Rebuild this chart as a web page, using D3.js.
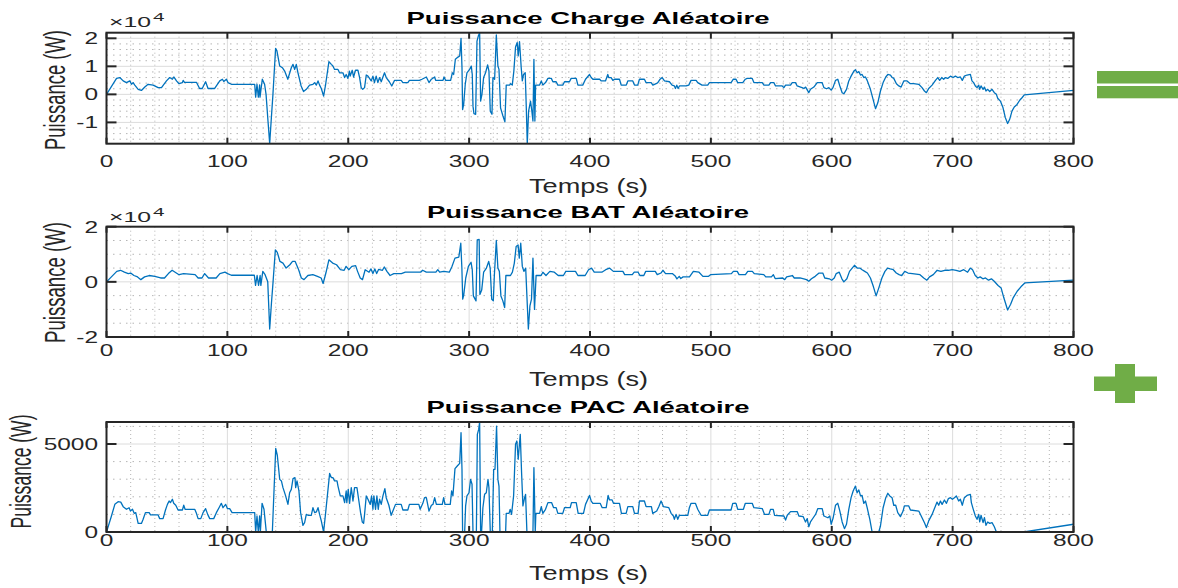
<!DOCTYPE html>
<html><head><meta charset="utf-8">
<script src="https://cdn.jsdelivr.net/npm/d3@7"></script>
<style>body{margin:0;background:#fff}svg{display:block}</style>
</head><body><svg id="c" width="1178" height="588"></svg>
<script>
// ---------------- DATA (time s, power W) ----------------
const chargeData = [[0,0],[8.3,5700],[11,6000],[13.8,4800],[16.5,4200],[19.3,4800],[20.7,3600],[22,4200],[23.4,3300],[26.2,1800],[28.9,1400],[31.7,2600],[34.4,3600],[38.6,3300],[42.7,2400],[45.5,2400],[49.6,4800],[52.3,6000],[54.5,5400],[55.7,6200],[57.9,4800],[60,3800],[62.8,4200],[63.4,5000],[64.5,4300],[66,4300],[74.4,4300],[77,2100],[79.2,2100],[82,4500],[84,2100],[89.5,2100],[93.7,4800],[95.9,5400],[97,4600],[99.2,5400],[100.5,4200],[103.3,3600],[122.6,3600],[123.4,-1000],[124.5,3600],[125.6,-1000],[126.7,3400],[127,-1000],[128.9,5400],[130.8,3600],[132,0],[133.6,-9500],[135,-17500],[136.4,-8300],[137.7,0],[139.9,16400],[141,15500],[143.3,10100],[145.5,9500],[147.4,8300],[150,5400],[152.9,9500],[154.3,10700],[155.7,8900],[157,10700],[158.4,7700],[161,3000],[163,1000],[165.3,1800],[168,3300],[170.8,3600],[172.2,4200],[173.6,3300],[175,4800],[176.3,3300],[177.7,2100],[179.6,-600],[181.3,3600],[184,11700],[186,10700],[187.3,10100],[188.7,8900],[191.5,8900],[192.8,7700],[195.6,7700],[197,6000],[198.3,7100],[199.7,5700],[201,8300],[201.6,6500],[203.3,8600],[204.4,6200],[206,8600],[208,8600],[209.4,6000],[210.7,2400],[212,1800],[213.5,2400],[214.9,6900],[216.3,6500],[219,4800],[220.4,6500],[221.7,4200],[223.1,6500],[224.5,4200],[225.9,6000],[227.3,4500],[228.7,6200],[230,7700],[231.4,6000],[234,4500],[236,3000],[238.3,5000],[243.8,5000],[245.2,4200],[249.3,4200],[250.6,5000],[258.8,5000],[261,5400],[264.6,6200],[266.8,4200],[268.8,5400],[271.5,6200],[272.3,5000],[278.4,5000],[279.2,6200],[280.6,5000],[284.7,5000],[286.1,7700],[287.2,7100],[288.6,12500],[290.8,13300],[292.2,13700],[293.3,20000],[294.1,9500],[294.6,-5400],[295.5,-3600],[296.8,3600],[298.2,7700],[300.4,8900],[301.8,10100],[302.6,7100],[303.2,-4200],[304,-6900],[305.4,-7100],[306.5,19000],[307.6,20800],[308.7,22000],[309.5,-2400],[310.6,0],[312,6000],[313.6,7700],[315.3,10500],[316.4,8300],[317.5,-6000],[318.9,-7100],[319.7,6000],[321.1,5400],[322.5,21200],[323.8,10100],[324.7,8900],[326,-4800],[328,-7700],[329.6,-9800],[330.7,3300],[333.5,3300],[334.3,3800],[335.7,3300],[337,8300],[338.4,16900],[339.8,18500],[340.6,13700],[341.7,18800],[343.1,9500],[344,4800],[345,7100],[346.4,7700],[347.3,-4800],[348.1,-17500],[349.2,-6000],[350.8,-2400],[351.9,-6000],[352.8,-9500],[353.6,12500],[354.4,-9500],[355,3300],[358.3,3300],[359.7,4800],[361,3300],[363.2,4200],[365.2,5700],[368,5700],[369.3,4500],[372,4500],[373.4,3300],[377.5,3300],[378.9,4500],[383,4500],[384.4,5700],[388.6,5700],[390,3300],[394,3300],[396.3,5400],[399.6,7100],[401,6000],[402.4,5400],[408,5400],[409.2,4800],[412.8,4800],[414.7,7100],[415.5,6000],[417.5,6000],[418.9,5000],[420.2,5400],[424.4,5400],[425.8,3300],[430,3300],[431.3,4800],[435.4,4800],[436.8,3300],[439.5,3300],[440.9,5400],[445,5400],[446.4,4200],[450.6,4200],[452,3300],[454.7,3800],[456.1,4200],[458,5400],[459.7,6000],[461.6,4800],[465.7,4500],[467.9,3300],[469.8,3000],[470.7,2100],[471.8,3300],[472.9,2100],[474,3000],[479.5,3000],[481.7,3300],[483.6,5000],[487.8,5000],[489.1,4200],[492.7,3300],[497.4,3300],[498.8,4200],[516.7,4200],[518.6,5400],[520.8,5400],[522.2,4200],[526.4,4200],[528.5,5400],[530,5700],[534.2,5700],[535.6,4200],[542.5,4200],[543.9,3300],[548,3300],[549.4,4200],[552.1,4200],[553.5,3000],[559,3000],[560.4,2400],[561.8,3300],[565.9,3300],[567.3,4200],[570,4200],[571.4,3000],[574.2,2600],[575.5,2400],[577,2100],[578.4,2600],[581,600],[582.4,1800],[585.2,2600],[588,4200],[592,4200],[593.5,2400],[595.7,2000],[597.6,2400],[599.5,1500],[601,2400],[603.1,5000],[605,5400],[606.7,3000],[608.6,600],[610,200],[612.2,1800],[614.1,4800],[616,6500],[618.3,8300],[619.6,8800],[621,7700],[622.4,8100],[623.8,6900],[625.1,7100],[626.5,6000],[627.9,6200],[629.3,5000],[632,1800],[634.2,-1800],[636.2,-5100],[638.1,-3000],[640.3,1200],[642.5,4200],[644.7,6200],[646.4,7100],[648.6,6900],[650,6000],[651.3,5700],[653.5,3800],[655.5,3000],[657.4,2600],[659.6,4800],[662.3,4800],[665,3800],[667.8,3800],[672,3600],[674.7,2400],[676.7,1200],[678.3,600],[680.2,2100],[683,3300],[685.8,5000],[687.7,6000],[689.3,5000],[691,6000],[692.6,5400],[694,6000],[695.9,5700],[698.2,6500],[700.4,6000],[702.3,6500],[704.2,6000],[706.4,6200],[708,5000],[709.7,6500],[711.9,6900],[714.7,7100],[716,4800],[717.4,4200],[718.8,3000],[720.2,2400],[721.6,3300],[722.4,1800],[723.5,3000],[725.2,1800],[726.3,2600],[727.6,1200],[729,1800],[730.7,1000],[732.6,1800],[734.5,600],[736.2,0],[737.3,-1400],[739.5,-2400],[741.7,-4800],[743.6,-8300],[745.5,-10400],[747.2,-8900],[749.1,-6000],[751,-4500],[753.3,-3600],[755.5,-2100],[757.4,-1200],[759.3,-200],[800,1400]];

const batData = [[0,0],[8.5,3800],[11.6,4200],[14.8,3500],[18,3000],[20,3200],[22.7,2300],[25.2,1900],[28.4,800],[31.5,1800],[35.3,2300],[40,2000],[44.8,1400],[48,1400],[51.2,3000],[54.3,4200],[56.8,3500],[60,2600],[63.8,3000],[73.3,2600],[75.8,1400],[79,1400],[81.2,3000],[84.4,1400],[90.7,1400],[93.8,3000],[98,3500],[100.2,3000],[103.3,2400],[122.3,2400],[123.3,-1300],[124.6,2300],[125.8,-1300],[127.1,2300],[127.7,-1300],[129.3,3800],[131.2,2600],[133.4,0],[135,-17100],[136.5,-7500],[137.8,0],[139.7,11600],[141.3,10700],[143.5,7400],[146,6800],[148.6,5000],[151.7,6200],[153.9,7400],[156.1,7400],[158.7,4700],[161.2,1400],[163.4,800],[166.6,2300],[170.7,2600],[174.5,2000],[177.6,1400],[179.2,-600],[181.5,3200],[184,8000],[187.1,6800],[190.3,6200],[193.5,4400],[196.6,4200],[198.2,5600],[200.4,4400],[203,5600],[206.1,5900],[207.7,3800],[209.9,1400],[211.8,800],[214,4400],[217.2,3500],[218.8,4700],[220.4,3000],[222,4700],[223.5,3000],[225.1,4500],[228.3,4200],[229.8,5400],[232,3800],[234.6,2300],[237.7,3000],[244,3000],[247.2,3500],[259.9,3500],[261.5,4200],[264.6,3500],[272.5,3500],[274.1,4400],[275.6,3500],[278.9,3800],[283.6,3500],[285.8,5600],[288.3,8600],[291.5,9000],[293.1,14000],[294,5000],[294.7,-6300],[295.6,-4600],[297.2,1400],[299.4,5600],[301.6,7100],[302.6,4400],[303.5,-5100],[305.7,-6900],[306.7,15200],[308.3,15400],[308.9,-4600],[310.4,-3000],[312,3500],[314.3,5000],[316.2,7400],[317.4,5000],[318.7,-6300],[320,-6900],[320.9,2600],[322.5,15000],[323.8,5000],[325,3800],[326.3,-5100],[327.9,-6900],[329.4,-9300],[330.4,2300],[334.2,2300],[335.8,3500],[337.4,6800],[338.9,12800],[340.5,13400],[341.5,8600],[342.7,14000],[344,5600],[345.3,3800],[346.8,5000],[347.8,-5100],[349,-17100],[350.3,-8700],[351.6,-6300],[352.8,8600],[354.1,-10000],[355.4,2300],[359.5,2300],[361,3500],[363.6,2300],[366.8,3800],[370.5,3500],[373.7,2300],[378,2300],[380,3800],[388,3800],[390,2300],[396,2300],[398.8,4400],[401.3,5000],[403.5,3500],[409.8,3500],[413,4400],[416.1,5000],[419.3,3800],[427.2,3800],[428.7,2600],[435,2600],[436.6,3500],[439.8,3500],[441.3,2300],[444.5,2300],[446.1,3800],[454,3800],[455.6,2600],[458.7,3200],[460.3,4200],[462.5,3000],[468.1,3000],[470.7,2000],[471.9,1100],[473.8,2000],[475.1,1200],[477,1800],[482.3,1800],[485.5,3800],[490.2,3500],[493.4,2000],[498.1,2000],[499.7,2600],[517,3000],[518.6,3800],[521.8,3800],[523.3,2600],[528.6,2600],[530.5,3800],[534.3,3800],[535.9,3000],[543.8,2600],[545.4,1800],[550.1,1800],[551.7,2600],[553.2,1200],[559.5,1400],[561.1,800],[562.7,1800],[567.4,2300],[569,1400],[573.7,1400],[576.9,1100],[579.1,800],[581,200],[583.2,1100],[586.3,2000],[589.5,3200],[592.6,3200],[594.2,1400],[598,1100],[599.9,600],[602.1,1400],[603.7,3000],[606.2,3500],[608.4,1100],[610,0],[612.5,1100],[614.7,3800],[616.9,5000],[618.8,6000],[621,5000],[623.2,5000],[625.1,4400],[627.3,3800],[629.5,3200],[632,1400],[634.5,-1800],[636.7,-5100],[639,-2100],[641.5,1400],[644,3800],[646.2,5000],[648.4,4700],[650.9,4400],[653.4,3200],[655.7,2600],[657.9,2300],[660.4,3800],[663.1,3200],[666.7,3000],[673,2600],[676.1,1400],[678.7,600],[680.9,1800],[684,2600],[687.2,4200],[690.3,3800],[693.5,4200],[696.6,4200],[699.7,4400],[702.9,4200],[706,3800],[709.2,4400],[712.4,3500],[714.6,5000],[716.5,4400],[718.7,2300],[720.9,1400],[722.8,1800],[725,1100],[727.2,1400],[729.7,600],[732.1,1100],[734.4,200],[737.6,-1300],[740.1,-2200],[742.3,-5700],[745.5,-10200],[748,-8100],[750.2,-5700],[753.4,-3400],[756.5,-1800],[759.7,-400],[800,600]];

const pacData = [[0,0],[4.1,910],[6.9,1570],[9.6,1720],[11.8,1700],[13.8,1440],[16.5,1290],[18.7,1380],[19.8,1190],[21.5,1290],[22.9,1060],[24.2,1100],[26.2,490],[28.9,490],[30.3,720],[32.2,1100],[35.3,1100],[36.4,970],[42.7,970],[44,760],[46.8,760],[48.8,1250],[50.4,1570],[51.8,1760],[52.9,1670],[54.5,1860],[55.6,1630],[57.3,1520],[59.2,1250],[62.8,1250],[63.9,1520],[65,1290],[73,1290],[74.4,1060],[75.8,760],[78,760],[79.9,1100],[82,1330],[83.7,1000],[85.4,760],[88.7,760],[90.9,1100],[93.1,1380],[95,1630],[96.4,1380],[98.6,1570],[100,1330],[101.9,1330],[103.9,1100],[122.6,1100],[123.4,0],[124.5,910],[125.6,0],[126.7,910],[127.3,0],[128.7,1630],[130.3,1290],[132.2,0],[137.2,0],[140,4750],[141.3,4360],[143.3,2990],[144.7,2900],[146,2520],[148.2,2050],[150.1,1570],[151.5,2230],[152.9,2420],[154.3,3030],[155.9,3090],[156.5,2520],[157.6,2900],[159.2,2330],[160.6,1100],[162.5,380],[163.9,530],[165.3,1000],[166.7,950],[169.4,950],[170.8,1380],[172.2,1100],[173.6,1140],[175,1380],[176.3,1000],[177.7,630],[179.6,0],[181.3,1100],[184.6,3330],[186,3090],[187.3,3090],[188.7,2900],[190.7,2900],[191.5,2610],[193.4,2050],[195.6,2050],[197,1670],[198.3,2330],[198.8,1670],[200,2420],[201.1,1630],[202.5,2520],[203.9,1760],[205.2,2520],[207.2,2520],[208.8,1760],[210.2,1100],[211.6,570],[212.7,490],[213.5,1000],[214.9,2050],[216.3,1860],[218.2,1570],[219.3,2050],[220.4,1290],[221.2,2050],[222.6,1290],[223.7,2050],[224.8,1290],[225.9,1860],[227.3,1570],[228.7,2050],[230.3,2460],[231.4,1950],[233.6,1520],[235.5,950],[237.5,1290],[239.1,1570],[243.8,1570],[245.2,1250],[249.3,1250],[250.6,1570],[258.4,1570],[259.5,1290],[261.7,1630],[263.1,1950],[264.6,1950],[266.8,1190],[268.8,1520],[270.1,1570],[271.5,1950],[272.9,1570],[277.8,1570],[278.9,1950],[280,1570],[284.4,1570],[285.5,2330],[286.6,2050],[288.3,3600],[290.2,3750],[292.2,3900],[293.3,5640],[294.1,3560],[294.6,0],[296.3,0],[297.1,1480],[298.2,2050],[299.9,2230],[301.2,2990],[302.4,2710],[303.2,0],[306,0],[306.8,5550],[307.9,5830],[308.7,6250],[309.5,0],[310.3,0],[311.4,1380],[312.8,2140],[314.2,2230],[315.6,2990],[316.4,2520],[317.5,0],[319.2,0],[320.3,3560],[321.4,3560],[322.7,6020],[323.8,2990],[324.7,2610],[325.5,0],[330.2,0],[330.7,1060],[333,1060],[334,1290],[335.1,1000],[336.8,2050],[338.4,4980],[339.5,5170],[340.6,4130],[342.3,5550],[343.4,3370],[344.5,1480],[345.9,1950],[346.7,2140],[347.8,0],[352.8,0],[353.6,3660],[354.7,0],[355.2,1060],[358.3,1060],[359.7,1440],[361,1060],[363.2,1290],[365.2,1670],[368.2,1670],[369.9,1380],[372,1380],[373.4,1060],[377.5,1060],[378.9,1380],[383.6,1380],[384.7,1670],[388.6,1670],[390.2,1060],[394.6,1060],[396.3,1570],[399.6,2080],[401,1760],[402.4,1630],[408.4,1630],[410.1,1380],[413.4,1380],[415,2080],[416.1,1820],[418.3,1820],[419.4,1630],[424.4,1630],[426,1060],[429.9,1060],[431.3,1440],[435.4,1440],[436.8,1060],[439.8,1060],[440.9,1760],[445,1760],[446.4,1440],[450.8,1440],[451.9,1060],[455.2,1190],[456.9,1440],[458.8,1760],[460.8,1440],[465.2,1380],[467.1,1060],[469,910],[469.8,720],[471.2,1000],[472.6,720],[474,950],[480.9,950],[482.2,1380],[483.6,1630],[487.2,1630],[489.1,1290],[491.9,950],[497.4,950],[498.8,1250],[516.7,1250],[518.1,1630],[520.8,1630],[522.2,1290],[526.9,1290],[528.5,1630],[534.2,1630],[535.6,1380],[542.5,1330],[544.4,1000],[548,1000],[549.4,1290],[551.6,1290],[552.7,950],[560.4,910],[561.8,680],[563.2,950],[565.9,1160],[571.4,1160],[572.8,910],[576.4,870],[578.3,570],[579.7,760],[581,300],[582.4,570],[584.7,810],[586.6,1000],[588.5,1330],[592.1,1330],[593.5,910],[596.8,810],[598.4,910],[599.5,440],[601.2,810],[603.1,1520],[605,1630],[606.7,1190],[608.6,570],[610.5,190],[612.2,440],[614.1,1290],[616,1950],[617.7,2330],[619.6,2610],[621,2230],[622.4,2390],[623.8,2050],[625.1,2080],[626.5,1630],[627.9,1760],[629.3,1380],[631.5,720],[633.4,0],[638.9,0],[640.3,340],[642.5,1380],[644.7,1950],[646.4,2200],[648,2050],[649.9,1950],[651.3,1520],[652.9,1520],[654.6,1100],[656.8,870],[659,1190],[660.1,1480],[663.7,1480],[665.1,1250],[672,1190],[674.7,810],[676.7,530],[678.3,250],[680.2,630],[683,1000],[685.8,1480],[687.1,1700],[688.5,1520],[689.9,1760],[691.3,1570],[693.2,1820],[694.9,1630],[696.5,1900],[698.2,1950],[699.8,1860],[701.5,1950],[703.1,2050],[705,1760],[706.4,1860],[708,1520],[709.7,1950],[711.9,2080],[714.7,2140],[715.5,1670],[716.9,1330],[718.8,910],[720.2,720],[721.6,1000],[722.4,570],[723.5,950],[725.2,530],[726.3,820],[727.6,380],[729,570],[730.7,490],[732.6,530],[734.5,300],[736.2,0],[758.8,0],[800,440]];

const xTickValues = [0,100,200,300,400,500,600,700,800];
const xTickLabels = ["0","100","200","300","400","500","600","700","800"];
const chargeTicks = [-10000,0,10000,20000];
const chargeTickLabels = ["-1","0","1","2"];
const batTicks = [-20000,0,20000];
const batTickLabels = ["-2","0","2"];
const pacTicks = [0,5000];
const pacTickLabels = ["0","5000"];
const titles = ["Puissance Charge Aléatoire","Puissance BAT Aléatoire","Puissance PAC Aléatoire"];
const xLabel = "Temps (s)";
const yLabel = "Puissance (W)";

// ---------------- LAYOUT ----------------
const svg = d3.select("#c");
const L = 106.5, R = 1073.5;
const x = d3.scaleLinear().domain([0,800]).range([L,R]);
const FONT = "'Liberation Sans', Arial, Helvetica, sans-serif";
const INK = "#262626";
const SX = 1.5;

const panels = [
  {data: chargeData, top: 32.7, bottom: 143.7, dom: [-17600,22000], ticks: chargeTicks, labels: chargeTickLabels, minor: 2000,
   title: titles[0], titleY: 24, titleW: 363, xlabY: 166.5, tempsY: 192.5, ylabX: 64.5, ylabC: 90, ylabL: 120, exp: [27.3, 20.7]},
  {data: batData, top: 226.7, bottom: 337, dom: [-20000,20000], ticks: batTicks, labels: batTickLabels, minor: 5000,
   title: titles[1], titleY: 218.3, titleW: 322, xlabY: 356, tempsY: 386, ylabX: 64.5, ylabC: 282.5, ylabL: 121, exp: [221.7, 215.5]},
  {data: pacData, top: 422, bottom: 532, dom: [0,6250], ticks: pacTicks, labels: pacTickLabels, minor: 1000,
   title: titles[2], titleY: 412.7, titleW: 323, xlabY: 546, tempsY: 580, ylabX: 31, ylabC: 471.5, ylabL: 114, exp: null}
];

panels.forEach((p, i) => {
  const y = d3.scaleLinear().domain(p.dom).range([p.bottom, p.top]);
  const g = svg.append("g");
  const clipId = "clip" + i;
  svg.append("clipPath").attr("id", clipId).append("rect")
    .attr("x", L).attr("y", p.top).attr("width", R - L).attr("height", p.bottom - p.top);

  // minor grid x
  const xMinor = d3.range(20, 800, 20).filter(v => v % 100 !== 0);
  g.selectAll(null).data(xMinor).join("line")
    .attr("x1", d => x(d)).attr("x2", d => x(d)).attr("y1", p.top).attr("y2", p.bottom)
    .attr("stroke", "#b5b5b5").attr("stroke-width", 1).attr("stroke-dasharray", "1,3");
  // minor grid y
  const yMinor = d3.range(Math.ceil(p.dom[0] / p.minor) * p.minor, p.dom[1], p.minor)
    .filter(v => !p.ticks.includes(v) && y(v) > p.top + 1 && y(v) < p.bottom - 1);
  g.selectAll(null).data(yMinor).join("line")
    .attr("x1", L).attr("x2", R).attr("y1", d => y(d)).attr("y2", d => y(d))
    .attr("stroke", "#b5b5b5").attr("stroke-width", 1).attr("stroke-dasharray", "1.5,5");
  // major grid
  g.selectAll(null).data(xTickValues.slice(1, -1)).join("line")
    .attr("x1", d => x(d)).attr("x2", d => x(d)).attr("y1", p.top).attr("y2", p.bottom)
    .attr("stroke", "#dcdcdc").attr("stroke-width", 1);
  g.selectAll(null).data(p.ticks.filter(v => y(v) > p.top + 1 && y(v) < p.bottom - 1)).join("line")
    .attr("x1", L).attr("x2", R).attr("y1", d => y(d)).attr("y2", d => y(d))
    .attr("stroke", "#dcdcdc").attr("stroke-width", 1);

  // data line
  const line = d3.line().x(d => x(d[0])).y(d => y(d[1]));
  g.append("path").datum(p.data).attr("d", line).attr("clip-path", `url(#${clipId})`)
    .attr("fill", "none").attr("stroke", "#0072BD").attr("stroke-width", 1.3).attr("stroke-linejoin", "round");

  // box
  g.append("rect").attr("x", L).attr("y", p.top).attr("width", R - L).attr("height", p.bottom - p.top)
    .attr("fill", "none").attr("stroke", INK).attr("stroke-width", 2);

  // x ticks (inside, top & bottom)
  xTickValues.forEach(v => {
    g.append("line").attr("x1", x(v)).attr("x2", x(v)).attr("y1", p.bottom).attr("y2", p.bottom - 6).attr("stroke", INK).attr("stroke-width", 2);
    g.append("line").attr("x1", x(v)).attr("x2", x(v)).attr("y1", p.top).attr("y2", p.top + 6).attr("stroke", INK).attr("stroke-width", 2);
  });
  // y ticks (inside, left & right)
  p.ticks.forEach(v => {
    g.append("line").attr("x1", L).attr("x2", L + 10).attr("y1", y(v)).attr("y2", y(v)).attr("stroke", INK).attr("stroke-width", 2);
    g.append("line").attr("x1", R).attr("x2", R - 10).attr("y1", y(v)).attr("y2", y(v)).attr("stroke", INK).attr("stroke-width", 2);
  });

  // x tick labels
  xTickValues.forEach((v, k) => {
    g.append("text").attr("transform", `translate(${x(v)},${p.xlabY}) scale(${SX},1)`)
      .attr("text-anchor", "middle").attr("font-family", FONT).attr("font-size", 16.3).attr("fill", INK)
      .text(xTickLabels[k]);
  });
  // y tick labels
  p.ticks.forEach((v, k) => {
    g.append("text").attr("transform", `translate(98,${y(v) + 5.8}) scale(${SX},1)`)
      .attr("text-anchor", "end").attr("font-family", FONT).attr("font-size", 16.3).attr("fill", INK)
      .text(p.labels[k]);
  });

  // title
  g.append("text").attr("x", 588).attr("y", p.titleY).attr("text-anchor", "middle")
    .attr("font-family", FONT).attr("font-weight", "bold").attr("font-size", 16.5).attr("fill", "#000")
    .attr("textLength", p.titleW).attr("lengthAdjust", "spacingAndGlyphs").text(p.title);

  // x label
  g.append("text").attr("x", 588.5).attr("y", p.tempsY).attr("text-anchor", "middle")
    .attr("font-family", FONT).attr("font-size", 19.5).attr("fill", INK)
    .attr("textLength", 119).attr("lengthAdjust", "spacingAndGlyphs").text(xLabel);

  // y label (rotated, horizontally stretched)
  g.append("text").attr("transform", `translate(${p.ylabX},${p.ylabC}) scale(1.45,1) rotate(-90)`)
    .attr("text-anchor", "middle").attr("font-family", "'Liberation Sans Narrow', 'Arial Narrow', " + FONT)
    .attr("font-size", 20).attr("fill", INK)
    .attr("textLength", p.ylabL).attr("lengthAdjust", "spacingAndGlyphs").text(yLabel);

  // exponent
  if (p.exp) {
    g.append("text").attr("x", 109).attr("y", p.exp[0]).attr("font-family", FONT).attr("font-size", 15).attr("fill", INK)
      .attr("textLength", 42).attr("lengthAdjust", "spacingAndGlyphs").text("×10");
    g.append("text").attr("x", 153).attr("y", p.exp[1]).attr("font-family", FONT).attr("font-size", 11).attr("fill", INK)
      .attr("textLength", 11.5).attr("lengthAdjust", "spacingAndGlyphs").text("4");
  }
});

// green operator symbols
const green = "#70AD47";
svg.append("rect").attr("x", 1097).attr("y", 71).attr("width", 81).attr("height", 12.5).attr("fill", green);
svg.append("rect").attr("x", 1097).attr("y", 86).attr("width", 81).attr("height", 12.3).attr("fill", green);
svg.append("rect").attr("x", 1094).attr("y", 376.5).attr("width", 63).attr("height", 14.5).attr("fill", green);
svg.append("rect").attr("x", 1115).attr("y", 364).attr("width", 20).attr("height", 39).attr("fill", green);
</script></body></html>
